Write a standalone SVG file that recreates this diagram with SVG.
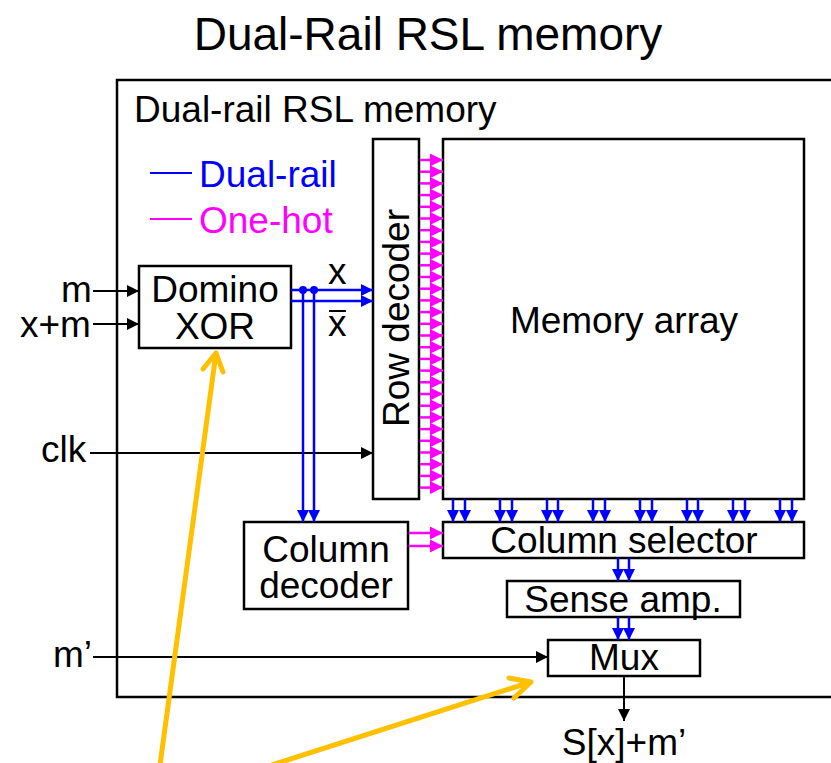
<svg xmlns="http://www.w3.org/2000/svg" width="831" height="763" viewBox="0 0 831 763">
<defs>
<style>
text{font-family:"Liberation Sans",Arial,sans-serif;font-size:37px;fill:#000}
.c{text-anchor:middle}
.box{fill:#fff;stroke:#000;stroke-width:2.5}
.blk{stroke:#000;stroke-width:2;fill:none}
.blu{stroke:#0000FF;stroke-width:2.5;fill:none}
.mag{stroke:#FF00FF;stroke-width:2.5;fill:none}
.yel{stroke:#FFC000;stroke-width:5;fill:none;stroke-linecap:round;stroke-linejoin:round}
</style>
<marker id="ak" viewBox="0 0 10 10" refX="10" refY="5" markerWidth="14" markerHeight="12" markerUnits="userSpaceOnUse" orient="auto"><path d="M0,0L10,5L0,10z" fill="#000"/></marker>
<marker id="ab" viewBox="0 0 10 10" refX="10" refY="5" markerWidth="13" markerHeight="12" markerUnits="userSpaceOnUse" orient="auto"><path d="M0,0L10,5L0,10z" fill="#0000FF"/></marker>
<marker id="am" viewBox="0 0 10 10" refX="10" refY="5" markerWidth="15" markerHeight="13" markerUnits="userSpaceOnUse" orient="auto"><path d="M0,0L10,5L0,10z" fill="#FF00FF"/></marker>
</defs>
<rect width="831" height="763" fill="#fff"/>
<text class="c" x="428" y="50" style="font-size:46px">Dual-Rail RSL memory</text>
<g id="outer">
<path d="M840,80H117V697H840" fill="none" stroke="#000" stroke-width="2.5"/>
<text x="134" y="122">Dual-rail RSL memory</text>
</g>
<g id="legend">
<line x1="150" y1="173" x2="192" y2="173" stroke="#0000FF" stroke-width="2"/>
<text x="199" y="187" style="fill:#0000FF">Dual-rail</text>
<line x1="150" y1="219" x2="192" y2="219" stroke="#FF00FF" stroke-width="2"/>
<text x="199" y="233" style="fill:#FF00FF">One-hot</text>
</g>
<g id="domino-xor">
<rect class="box" x="139" y="266" width="152" height="82"/>
<text class="c" x="215" y="302">Domino</text>
<text class="c" x="215" y="339">XOR</text>
</g>
<g id="row-decoder">
<rect class="box" x="373" y="139" width="46" height="360"/>
<text class="c" transform="translate(409,318) rotate(-90)">Row decoder</text>
</g>
<g id="memory-array">
<rect class="box" x="443" y="139" width="361" height="360"/>
<text class="c" x="624" y="333">Memory array</text>
</g>
<g id="column-decoder">
<rect class="box" x="244" y="522" width="164" height="87"/>
<text class="c" x="326" y="562">Column</text>
<text class="c" x="326" y="598">decoder</text>
</g>
<g id="column-selector">
<rect class="box" x="443" y="522" width="361" height="36"/>
<text class="c" x="624" y="553">Column selector</text>
</g>
<g id="sense-amp">
<rect class="box" x="507" y="581" width="233" height="36"/>
<text class="c" x="623" y="612">Sense amp.</text>
</g>
<g id="mux">
<rect class="box" x="548" y="640" width="152" height="36"/>
<text class="c" x="624" y="670">Mux</text>
</g>
<g id="labels">
<text x="61" y="302">m</text>
<text x="20" y="337">x+m</text>
<text x="41" y="462">clk</text>
<text x="53" y="667">m’</text>
<text x="328" y="284">x</text>
<text x="328" y="336">x</text>
<line x1="329" y1="311" x2="346" y2="311" stroke="#000" stroke-width="2"/>
<text class="c" x="624" y="755">S[x]+m’</text>
</g>
<g id="connectors">
<line class="blk" x1="93" y1="291" x2="139" y2="291" marker-end="url(#ak)"/>
<line class="blk" x1="93" y1="324" x2="139" y2="324" marker-end="url(#ak)"/>
<line class="blk" x1="90" y1="453" x2="373" y2="453" marker-end="url(#ak)"/>
<line class="blk" x1="93" y1="657" x2="548" y2="657" marker-end="url(#ak)"/>
<line class="blk" x1="624" y1="676" x2="624" y2="721" marker-end="url(#ak)"/>
<line class="blu" x1="291" y1="290" x2="373" y2="290" marker-end="url(#ab)"/>
<line class="blu" x1="291" y1="301" x2="373" y2="301" marker-end="url(#ab)"/>
<line class="blu" x1="303" y1="290" x2="303" y2="522" marker-end="url(#ab)"/>
<line class="blu" x1="314" y1="290" x2="314" y2="522" marker-end="url(#ab)"/>
<circle cx="303" cy="290" r="4" fill="#0000FF"/>
<circle cx="314" cy="290" r="4" fill="#0000FF"/>
<g class="blu">
<line x1="453" y1="499" x2="453" y2="522" marker-end="url(#ab)"/><line x1="465" y1="499" x2="465" y2="522" marker-end="url(#ab)"/>
<line x1="500" y1="499" x2="500" y2="522" marker-end="url(#ab)"/><line x1="512" y1="499" x2="512" y2="522" marker-end="url(#ab)"/>
<line x1="547" y1="499" x2="547" y2="522" marker-end="url(#ab)"/><line x1="558" y1="499" x2="558" y2="522" marker-end="url(#ab)"/>
<line x1="593" y1="499" x2="593" y2="522" marker-end="url(#ab)"/><line x1="605" y1="499" x2="605" y2="522" marker-end="url(#ab)"/>
<line x1="640" y1="499" x2="640" y2="522" marker-end="url(#ab)"/><line x1="652" y1="499" x2="652" y2="522" marker-end="url(#ab)"/>
<line x1="687" y1="499" x2="687" y2="522" marker-end="url(#ab)"/><line x1="698" y1="499" x2="698" y2="522" marker-end="url(#ab)"/>
<line x1="733" y1="499" x2="733" y2="522" marker-end="url(#ab)"/><line x1="745" y1="499" x2="745" y2="522" marker-end="url(#ab)"/>
<line x1="780" y1="499" x2="780" y2="522" marker-end="url(#ab)"/><line x1="792" y1="499" x2="792" y2="522" marker-end="url(#ab)"/>
<line x1="618" y1="558" x2="618" y2="581" marker-end="url(#ab)"/><line x1="629" y1="558" x2="629" y2="581" marker-end="url(#ab)"/>
<line x1="618" y1="617" x2="618" y2="640" marker-end="url(#ab)"/><line x1="629" y1="617" x2="629" y2="640" marker-end="url(#ab)"/>
</g>
<g class="mag">
<line x1="409" y1="533" x2="443" y2="533" marker-end="url(#am)"/>
<line x1="409" y1="546" x2="443" y2="546" marker-end="url(#am)"/>
<line x1="420" y1="160" x2="443" y2="160" marker-end="url(#am)"/>
<line x1="420" y1="171.7" x2="443" y2="171.7" marker-end="url(#am)"/>
<line x1="420" y1="183.4" x2="443" y2="183.4" marker-end="url(#am)"/>
<line x1="420" y1="195.1" x2="443" y2="195.1" marker-end="url(#am)"/>
<line x1="420" y1="206.8" x2="443" y2="206.8" marker-end="url(#am)"/>
<line x1="420" y1="218.5" x2="443" y2="218.5" marker-end="url(#am)"/>
<line x1="420" y1="230.2" x2="443" y2="230.2" marker-end="url(#am)"/>
<line x1="420" y1="241.9" x2="443" y2="241.9" marker-end="url(#am)"/>
<line x1="420" y1="253.6" x2="443" y2="253.6" marker-end="url(#am)"/>
<line x1="420" y1="265.3" x2="443" y2="265.3" marker-end="url(#am)"/>
<line x1="420" y1="277" x2="443" y2="277" marker-end="url(#am)"/>
<line x1="420" y1="288.7" x2="443" y2="288.7" marker-end="url(#am)"/>
<line x1="420" y1="300.4" x2="443" y2="300.4" marker-end="url(#am)"/>
<line x1="420" y1="312.1" x2="443" y2="312.1" marker-end="url(#am)"/>
<line x1="420" y1="323.8" x2="443" y2="323.8" marker-end="url(#am)"/>
<line x1="420" y1="335.5" x2="443" y2="335.5" marker-end="url(#am)"/>
<line x1="420" y1="347.2" x2="443" y2="347.2" marker-end="url(#am)"/>
<line x1="420" y1="358.9" x2="443" y2="358.9" marker-end="url(#am)"/>
<line x1="420" y1="370.6" x2="443" y2="370.6" marker-end="url(#am)"/>
<line x1="420" y1="382.3" x2="443" y2="382.3" marker-end="url(#am)"/>
<line x1="420" y1="394" x2="443" y2="394" marker-end="url(#am)"/>
<line x1="420" y1="405.7" x2="443" y2="405.7" marker-end="url(#am)"/>
<line x1="420" y1="417.4" x2="443" y2="417.4" marker-end="url(#am)"/>
<line x1="420" y1="429.1" x2="443" y2="429.1" marker-end="url(#am)"/>
<line x1="420" y1="440.8" x2="443" y2="440.8" marker-end="url(#am)"/>
<line x1="420" y1="452.5" x2="443" y2="452.5" marker-end="url(#am)"/>
<line x1="420" y1="464.2" x2="443" y2="464.2" marker-end="url(#am)"/>
<line x1="420" y1="475.9" x2="443" y2="475.9" marker-end="url(#am)"/>
<line x1="420" y1="487.6" x2="443" y2="487.6" marker-end="url(#am)"/>
</g>
<g class="yel">
<path d="M160,765L216,353M203,369L216,353L223,372"/>
<path d="M272,765L531,682M509,678L531,682L514,698"/>
</g>
</g>
</svg>
